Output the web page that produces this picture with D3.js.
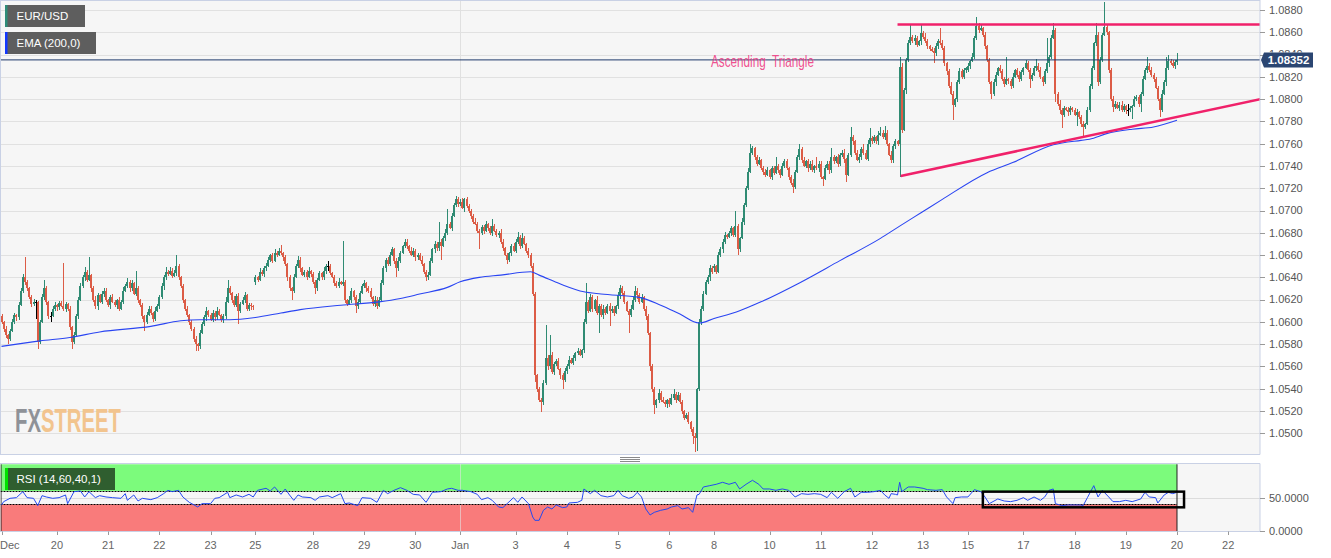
<!DOCTYPE html>
<html><head><meta charset="utf-8">
<script src="https://cdn.jsdelivr.net/npm/d3@7"></script>
<style>html,body{margin:0;padding:0;background:#fff;}svg{display:block;font-family:"Liberation Sans",Arial,sans-serif;}</style>
</head><body><svg id="c" width="1331" height="558"></svg>
<script>
// ---------- DATA (hourly EUR/USD candles) ----------
const weekOpens = [1.0605, 1.0636, 1.0706, 1.0648, 1.0826];
const closesW1 = [1.0600,1.0594,1.0588,1.0585,1.0592,1.0600,1.0606,1.0604,1.0615,1.0628,
1.0640,1.0636,1.0630,1.0622,1.0616,1.0618,1.0618,1.0582,1.0600,1.0622,
1.0630,1.0618,1.0605,1.0605,1.0612,1.0615,1.0613,1.0617,1.0614,1.0612,
1.0616,1.0612,1.0595,1.0582,1.0588,1.0605,1.0620,1.0632,1.0640,1.0645,
1.0638,1.0642,1.0630,1.0620,1.0614,1.0624,1.0618,1.0625,1.0628,1.0620,
1.0615,1.0622,1.0618,1.0615,1.0620,1.0612,1.0618,1.0628,1.0632,1.0636,
1.0630,1.0635,1.0625,1.0630,1.0620,1.0615,1.0605,1.0600,1.0606,1.0612,
1.0608,1.0603,1.0610,1.0614,1.0622,1.0632,1.0640,1.0645,1.0643,1.0646,
1.0641,1.0644,1.0650,1.0640,1.0632,1.0620,1.0612,1.0606,1.0600,1.0594,
1.0585,1.0580,1.0578,1.0590,1.0598,1.0604,1.0610,1.0606,1.0602,1.0608,
1.0604,1.0610,1.0606,1.0602,1.0605,1.0618,1.0630,1.0626,1.0620,1.0615,
1.0623,1.0610,1.0616,1.0620,1.0624,1.0612,1.0615,1.0614,1.0613];
const hiW1 = [2,1,2,1,2,3,2,1,3,2, 3,18,2,1,2,3,2,1,2,3, 8,2,1,4,2,3,1,2,2,39, 2,1,2,1,3,2,2,3,2,4,
2,16,1,2,3,2,1,3,2,2, 1,2,3,2,1,2,2,3,2,3, 2,3,1,16,2,1,2,1,3,2, 2,1,3,2,2,3,2,4,2,3,
2,3,10,2,1,2,1,2,1,2, 1,2,1,3,2,2,3,1,2,3, 2,3,2,1,2,4,8,2,1,3, 2,3,2,2,3,1,2,2,1];
const loW1 = [2,3,2,5,2,1,2,3,2,1, 2,3,2,1,3,2,15,6,2,1, 2,3,2,5,1,2,3,2,1,2, 3,2,2,6,2,1,2,1,2,3,
2,1,3,2,2,3,1,2,3,2, 2,3,1,2,3,2,1,2,1,2, 3,2,1,2,3,2,2,8,2,1, 2,3,2,1,2,1,3,2,2,1,
2,1,3,2,2,3,2,2,3,2, 3,6,4,2,1,2,3,2,1,2, 3,2,1,2,3,2,1,2,3,2, 2,12,2,1,3,2,2,3,2];

const closesW2 = [1.0640,1.0638,1.0645,1.0643,1.0648,1.0650,1.0656,1.0660,1.0655,1.0662,
1.0660,1.0664,1.0662,1.0658,1.0652,1.0640,1.0630,1.0628,1.0640,1.0650,
1.0656,1.0648,1.0642,1.0645,1.0640,1.0646,1.0643,1.0636,1.0630,1.0638,
1.0644,1.0640,1.0646,1.0650,1.0650,1.0644,1.0640,1.0635,1.0632,1.0636,
1.0634,1.0636,1.0620,1.0616,1.0620,1.0628,1.0622,1.0614,1.0618,1.0626,
1.0632,1.0635,1.0630,1.0628,1.0622,1.0616,1.0620,1.0614,1.0620,1.0635,
1.0648,1.0656,1.0652,1.0660,1.0665,1.0655,1.0648,1.0655,1.0662,1.0668,
1.0672,1.0668,1.0664,1.0660,1.0664,1.0658,1.0660,1.0656,1.0652,1.0645,
1.0640,1.0642,1.0655,1.0665,1.0670,1.0666,1.0672,1.0668,1.0675,1.0680,
1.0688,1.0684,1.0695,1.0705,1.0710,1.0706];
const hiW2 = [2,1,3,2,2,3,2,1,2,3, 2,2,5,1,2,1,2,1,3,2, 3,2,1,2,2,3,1,2,2,1, 2,1,3,2,5,2,1,2,2,3,
1,37,2,1,3,2,1,2,3,2, 2,3,1,2,2,1,3,2,2,3, 2,1,2,3,2,1,2,3,2,1, 2,2,1,3,2,1,2,2,3,1,
2,3,2,1,3,2,18,2,2,3, 13,2,3,2,3,2];
const loW2 = [3,2,1,2,3,2,1,2,2,1, 2,1,2,3,2,3,2,8,2,1, 2,3,1,2,2,1,3,2,5,2, 1,2,2,3,4,2,1,3,2,2,
1,2,3,2,1,3,2,6,2,2, 1,2,3,2,1,2,3,2,1,2, 2,3,2,2,1,3,8,2,2,1, 2,3,2,1,2,3,2,1,2,2,
3,2,1,2,3,2,2,12,1,2, 2,1,2,1,2,3];

const closesW3 = [1.0708,1.0702,1.0710,1.0704,1.0700,1.0695,1.0690,1.0688,1.0682,1.0680,
1.0685,1.0682,1.0688,1.0684,1.0680,1.0686,1.0682,1.0678,1.0680,1.0672,
1.0666,1.0660,1.0656,1.0662,1.0668,1.0664,1.0672,1.0676,1.0668,1.0675,
1.0670,1.0664,1.0660,1.0650,1.0625,1.0552,1.0540,1.0530,1.0528,1.0545,
1.0568,1.0560,1.0570,1.0555,1.0562,1.0565,1.0558,1.0552,1.0548,1.0556,
1.0560,1.0566,1.0563,1.0568,1.0572,1.0574,1.0570,1.0575,1.0600,1.0618,
1.0610,1.0622,1.0612,1.0620,1.0608,1.0614,1.0606,1.0612,1.0608,1.0614,
1.0610,1.0612,1.0608,1.0614,1.0624,1.0630,1.0626,1.0618,1.0610,1.0606,
1.0612,1.0620,1.0628,1.0624,1.0618,1.0622,1.0612,1.0605,1.0590,1.0560,
1.0540,1.0525,1.0530,1.0536,1.0530,1.0528,1.0526,1.0530,1.0526,1.0532,
1.0535,1.0530,1.0534,1.0528,1.0520,1.0514,1.0516,1.0510,1.0504,1.0498,
1.0496,1.0540,1.0600,1.0612,1.0625,1.0636,1.0640,1.0648,1.0645];
const hiW3 = [2,3,1,2,2,1,2,3,2,1, 2,2,3,1,2,6,2,1,2,3, 2,1,2,1,2,3,2,5,2,5, 2,1,2,2,3,2,1,2,2,3,
29,2,18,3,2,2,3,1,2,3, 2,3,2,2,1,3,2,1,3,17, 2,3,2,1,3,2,2,3,1,2, 3,2,2,1,3,3,2,2,1,2,
3,2,4,2,2,3,1,2,2,1, 2,2,1,4,2,3,2,1,2,3, 5,2,3,2,2,1,2,3,1,2, 2,1,3,2,3,2,2,3,2];
const loW3 = [2,1,3,2,2,3,2,1,2,15, 2,3,1,2,2,3,1,2,3,2, 2,1,4,2,3,1,2,2,3,2, 1,2,3,2,2,6,3,2,9,3,
2,3,2,2,3,2,1,3,8,2, 3,2,1,2,3,2,1,2,3,2, 2,1,3,2,2,18,2,3,2,1, 14,2,3,1,2,3,2,2,1,16,
2,1,2,3,2,1,2,3,2,4, 3,8,2,3,2,1,2,3,2,1, 2,3,1,2,3,2,1,2,3,8, 13,12,2,3,2,1,2,3,2];

const closesW4 = [1.0650,1.0645,1.0660,1.0665,1.0672,1.0678,1.0676,1.0680,1.0684,1.0678,
1.0686,1.0665,1.0675,1.0690,1.0705,1.0720,1.0735,1.0752,1.0756,1.0748,
1.0742,1.0745,1.0738,1.0735,1.0732,1.0736,1.0730,1.0738,1.0734,1.0740,
1.0736,1.0732,1.0740,1.0744,1.0738,1.0730,1.0725,1.0721,1.0735,1.0748,
1.0755,1.0745,1.0740,1.0744,1.0738,1.0742,1.0736,1.0740,1.0738,1.0742,
1.0730,1.0728,1.0738,1.0742,1.0736,1.0748,1.0744,1.0748,1.0742,1.0750,
1.0752,1.0746,1.0732,1.0750,1.0766,1.0762,1.0752,1.0745,1.0748,1.0755,
1.0752,1.0746,1.0760,1.0765,1.0762,1.0766,1.0762,1.0768,1.0770,1.0766,
1.0770,1.0760,1.0750,1.0745,1.0758,1.0762,1.0760,1.0829,1.0772,1.0808,
1.0835,1.0850,1.0856,1.0852,1.0855,1.0849,1.0852,1.0859,1.0856,1.0852,
1.0848,1.0845,1.0843,1.0841,1.0848,1.0852,1.0850,1.0846,1.0832,1.0825,
1.0812,1.0805,1.0795,1.0800,1.0815,1.0825,1.0820,1.0826,1.0828];
const hiW4 = [2,1,3,2,2,3,1,2,2,1, 14,2,1,3,2,2,3,8,2,1, 2,3,1,2,2,3,1,2,2,8, 2,1,3,2,2,1,2,3,1,2,
5,2,3,1,2,2,3,1,8,2, 2,1,3,2,2,8,2,1,3,2, 2,3,1,2,9,2,1,2,3,2, 5,2,3,9,2,2,1,3,5,2,
6,2,1,3,2,2,1,9,3,2, 2,3,11,2,3,2,1,8,2,3, 2,1,2,3,2,2,12,3,2,1, 2,3,2,1,2,3,2,2,1];
const loW4 = [3,2,1,2,3,2,2,1,3,2, 2,5,2,1,3,2,2,1,2,3, 2,1,2,3,2,1,2,3,2,1, 2,3,1,2,2,3,2,5,2,1,
3,2,1,2,3,2,1,2,2,3, 2,6,1,2,3,2,2,1,3,2, 2,3,6,1,2,3,2,1,2,3, 2,1,2,3,2,1,2,3,1,2,
3,2,1,2,2,3,2,30,2,1, 3,2,1,2,3,2,1,3,2,2, 3,2,1,9,2,3,1,2,2,3, 2,1,14,2,3,1,2,2,3];

const closesW5 = [1.0830,1.0834,1.0838,1.0855,1.0866,1.0862,1.0864,1.0858,1.0848,1.0835,
1.0815,1.0805,1.0815,1.0822,1.0828,1.0825,1.0818,1.0814,1.0818,1.0816,
1.0812,1.0820,1.0826,1.0822,1.0818,1.0824,1.0828,1.0832,1.0826,1.0818,
1.0822,1.0828,1.0830,1.0826,1.0820,1.0815,1.0825,1.0832,1.0838,1.0855,
1.0862,1.0805,1.0796,1.0790,1.0786,1.0792,1.0790,1.0788,1.0792,1.0790,
1.0786,1.0788,1.0784,1.0778,1.0775,1.0778,1.0790,1.0812,1.0828,1.0850,
1.0858,1.0815,1.0835,1.0858,1.0865,1.0860,1.0826,1.0800,1.0793,1.0796,
1.0792,1.0795,1.0790,1.0794,1.0790,1.0790,1.0792,1.0794,1.0800,1.0802,
1.0796,1.0805,1.0818,1.0826,1.0830,1.0826,1.0822,1.0818,1.0810,1.0800,
1.0790,1.0805,1.0815,1.0828,1.0834,1.0832,1.0830,1.0833,1.08352];
const hiW5 = [2,1,3,2,8,2,3,1,2,1, 2,1,3,2,1,3,2,2,20,1, 2,3,1,2,3,2,1,3,2,2, 1,2,6,2,3,1,2,23,2,3,
6,2,1,3,2,2,1,3,2,1, 2,3,1,2,2,1,3,2,2,1, 10,2,3,1,22,2,1,2,3,2, 1,2,3,2,1,6,2,1,3,2,
2,1,3,2,8,2,3,1,2,2, 1,3,2,10,6,2,3,2,6];
const loW5 = [2,3,1,2,2,3,1,2,3,2, 1,5,2,3,1,2,2,3,1,2, 3,2,1,2,3,2,2,1,2,8, 2,1,3,2,2,3,1,2,3,2,
1,8,2,3,12,2,1,3,2,2, 1,10,2,3,9,2,1,2,3,2, 2,3,1,2,1,2,3,2,5,2, 1,3,2,2,3,5,2,10,1,2,
3,8,2,1,3,2,2,3,1,2, 6,2,1,3,2,1,2,3,2];

// EMA(200): [candle index, value]
const emaPoints = [[0,1.0578],[18,1.0583],[32,1.0586],[46,1.0591],[70,1.0596],[84,1.0601],[93,1.0602],[107,1.0602],
[119,1.0604],[131,1.0608],[140,1.0611],[159,1.0615],[177,1.0618],[187,1.0621],[196,1.0625],[209,1.0631],[215,1.0636],
[224,1.0640],[234,1.0642],[248,1.0645],[252,1.0642],[262,1.0634],[273,1.0627],[281,1.0625],[299,1.0622],[309,1.0615],
[318,1.0607],[327,1.0599],[334,1.0603],[346,1.0610],[356,1.0618],[374,1.0635],[393,1.0655],[412,1.0675],[421,1.0686],
[431,1.0698],[441,1.0710],[462,1.0734],[474,1.0743],[493,1.0759],[506,1.0763],[510,1.0764],[518,1.0769],[530,1.0773],
[540,1.0775],[551,1.0781]];

// RSI(14): [candle index, value]
const rsiPoints = [[0,39],[1,44],[4,49],[7,50],[10,59],[12,50],[15,49],[17,38],[19,53],[21,51],[24,49],[27,50],[30,54],[31,41],
[34,59],[37,60],[39,51],[41,59],[44,50],[46,53],[49,51],[52,50],[56,49],[58,56],[59,46],[62,54],[64,45],[66,49],[70,47],[73,50],
[76,56],[78,61],[80,59],[83,61],[85,51],[88,43],[92,36],[94,41],[98,41],[100,49],[102,50],[106,58],[107,50],[110,54],[113,51],
[116,55],[118,51],[120,61],[124,64],[126,60],[128,66],[131,55],[133,63],[135,54],[137,46],[139,54],[141,51],[145,50],[147,46],
[149,51],[153,53],[155,50],[159,56],[161,41],[163,42],[167,38],[169,50],[173,49],[176,43],[179,61],[181,56],[184,61],[187,65],
[190,61],[193,55],[196,54],[199,43],[202,58],[206,59],[209,63],[211,64],[214,61],[216,61],[220,59],[223,55],[225,47],[228,50],
[230,46],[233,36],[235,35],[237,41],[240,50],[242,43],[244,51],[247,41],[249,21],[250,16],[252,16],[254,31],[256,36],[258,33],
[260,39],[263,35],[265,36],[266,42],[270,43],[272,46],[273,63],[276,56],[278,61],[281,53],[284,51],[287,53],[289,61],[291,53],
[294,49],[296,51],[298,58],[300,51],[302,33],[304,24],[306,28],[309,31],[312,33],[314,36],[317,38],[319,33],[322,35],[324,28],
[326,54],[327,55],[329,66],[332,68],[335,70],[338,73],[341,70],[344,73],[346,63],[349,70],[352,76],[355,70],[357,63],[360,63],
[363,61],[366,63],[369,61],[372,51],[375,56],[378,55],[381,56],[384,55],[387,50],[389,58],[392,49],[395,59],[398,64],[400,51],
[403,58],[406,58],[409,59],[412,61],[414,54],[416,49],[417,56],[419,55],[420,54],[421,73],[422,59],[425,66],[428,66],[432,64],
[434,62],[438,61],[441,62],[443,51],[446,41],[447,50],[450,51],[453,51],[456,62],[459,59],[461,51],[463,41],[467,48],[470,45],
[473,44],[476,46],[479,50],[481,46],[484,51],[487,46],[489,51],[491,61],[493,63],[494,41],[497,38],[500,39],[503,39],[506,39],
[507,38],[509,50],[512,68],[514,51],[516,61],[519,51],[521,44],[524,44],[527,46],[530,44],[534,48],[536,58],[538,51],[541,50],
[542,42],[545,54],[547,58],[549,56],[551,58]];

const priceTicks = [1.0500,1.0520,1.0540,1.0560,1.0580,1.0600,1.0620,1.0640,1.0660,1.0680,1.0700,1.0720,1.0740,1.0760,1.0780,1.0800,1.0820,1.0840,1.0860,1.0880];
const rsiTicks = [0, 50];
const dateLabels = ["Dec","20","21","22","23","25","28","29","30","Jan","3","4","5","6","8","10","11","12","13","15","17","18","19","20","22"];
const dateIdx = [0,26,50,74,98,119,146,170,194,215,241,265,289,313,334,360,384,408,432,453,479,503,527,551,575];
const lastPrice = 1.08352;
const resistanceLine = [[420,1.0867],[590,1.0867]];
const supportLine = [[421.5,1.0731],[590,1.0800]];
const rsiBox = [[460,59],[554.3,35.5]];
const rsiLevels = [60, 40];

// ---------- BUILD ----------
const weeks = [closesW1,closesW2,closesW3,closesW4,closesW5];
const his = [hiW1,hiW2,hiW3,hiW4,hiW5];
const los = [loW1,loW2,loW3,loW4,loW5];
const candles = [];
let gi = 0;
weeks.forEach((cl,w)=>{
  let o = weekOpens[w];
  cl.forEach((c,k)=>{
    candles.push({i:gi++, o, c, h:Math.max(o,c)+his[w][k]*1e-4, l:Math.min(o,c)-los[w][k]*1e-4});
    o = c;
  });
});
const lastIdx = candles.length-1;

const plotL=0.5, plotR=1260, mainT=0.5, mainB=454.5, rsiT=463.5, rsiB=531.5;
const x = d3.scaleLinear().domain([0,590]).range([1.5,1260.2]);
const y = d3.scaleLinear().domain([1.0500,1.0880]).range([433.3,10]);
const yr = d3.scaleLinear().domain([0,100]).range([531,464.3]);

const svg = d3.select("#c");
const defs = svg.append("defs");
defs.append("clipPath").attr("id","mainClip").append("rect").attr("x",plotL).attr("y",mainT).attr("width",plotR-plotL).attr("height",mainB-mainT);
defs.append("clipPath").attr("id","rsiClip").append("rect").attr("x",plotL).attr("y",rsiT).attr("width",plotR-plotL).attr("height",rsiB-rsiT);
defs.append("clipPath").attr("id","tagClip").append("rect").attr("x",1262).attr("y",0).attr("width",69).attr("height",y(lastPrice)-7.5);

const border="#c9d1e5";
svg.append("rect").attr("x",plotL).attr("y",mainT).attr("width",plotR-plotL).attr("height",mainB-mainT).attr("fill","#f6f6f6");
svg.append("rect").attr("x",plotL).attr("y",rsiT).attr("width",plotR-plotL).attr("height",rsiB-rsiT).attr("fill","#f6f6f6");

// main grid
const grid = svg.append("g").attr("clip-path","url(#mainClip)");
grid.selectAll("line.g").data(priceTicks).join("line")
  .attr("x1",plotL).attr("x2",plotR).attr("y1",d=>Math.round(y(d))+0.5).attr("y2",d=>Math.round(y(d))+0.5)
  .attr("stroke","#e1e1e1").attr("stroke-width",1);
svg.append("line").attr("x1",Math.round(x(215))+0.5).attr("x2",Math.round(x(215))+0.5).attr("y1",mainT).attr("y2",mainB).attr("stroke","#e0e0e0");

// FXSTREET watermark (single text, two coloured parts)
const logo = svg.append("text").attr("x",15).attr("y",432)
  .attr("font-family","'Liberation Sans Narrow','Liberation Sans',Arial,sans-serif").attr("font-weight","bold").attr("font-size",33)
  .attr("textLength",106).attr("lengthAdjust","spacingAndGlyphs");
logo.append("tspan").attr("fill","#8f9298").text("FX");
logo.append("tspan").attr("fill","#f2c48e").text("STREET");

// candles
const cg = svg.append("g").attr("clip-path","url(#mainClip)").attr("shape-rendering","crispEdges");
const up="#2f8b73", dn="#dc5c46";
const col = d => Math.abs(d.c-d.o)<0.00004 ? "#000" : (d.c>d.o?up:dn);
cg.selectAll("rect.w").data(candles).join("rect")
  .attr("x",d=>Math.round(x(d.i)-1)+1).attr("width",1)
  .attr("y",d=>y(d.h)).attr("height",d=>Math.max(1,y(d.l)-y(d.h)))
  .attr("fill",col);
cg.selectAll("rect.b").data(candles).join("rect")
  .attr("x",d=>Math.round(x(d.i)-1)).attr("width",2)
  .attr("y",d=>y(Math.max(d.o,d.c))).attr("height",d=>Math.max(1,Math.abs(y(d.o)-y(d.c))))
  .attr("fill",col);

// EMA
const mainLines = svg.append("g").attr("clip-path","url(#mainClip)");
mainLines.append("path").datum(emaPoints)
  .attr("d",d3.line().x(d=>x(d[0])).y(d=>y(d[1])).curve(d3.curveMonotoneX))
  .attr("fill","none").attr("stroke","#2a45f2").attr("stroke-width",1.1);

// triangle
const tri = d3.line().x(d=>x(d[0])).y(d=>y(d[1]));
mainLines.append("path").datum(resistanceLine).attr("d",tri).attr("stroke","#f0216a").attr("stroke-width",2.5).attr("fill","none");
mainLines.append("path").datum(supportLine).attr("d",tri).attr("stroke","#f0216a").attr("stroke-width",2.5).attr("fill","none");

// current price line
svg.append("line").attr("x1",plotL).attr("x2",plotR).attr("y1",y(lastPrice)).attr("y2",y(lastPrice)).attr("stroke","#1f3a6c").attr("stroke-width",1);

// annotation text
svg.append("text").attr("x",711).attr("y",67).attr("font-family","'Liberation Sans Narrow','Liberation Sans',Arial,sans-serif")
  .attr("font-size",17).attr("textLength",103).attr("lengthAdjust","spacingAndGlyphs")
  .attr("fill","#ef3b84").attr("fill-opacity",0.9).attr("xml:space","preserve").text("Ascending  Triangle");

// main borders
svg.append("line").attr("x1",plotR).attr("x2",plotR).attr("y1",0).attr("y2",mainB).attr("stroke",border);
svg.append("line").attr("x1",0).attr("x2",plotR).attr("y1",0.5).attr("y2",0.5).attr("stroke",border);
svg.append("line").attr("x1",0).attr("x2",plotR).attr("y1",mainB).attr("y2",mainB).attr("stroke",border);
svg.append("line").attr("x1",0.5).attr("x2",0.5).attr("y1",0).attr("y2",mainB).attr("stroke",border);

// price axis (the 1.0840 label sits behind the price tag, as in the original; only its top edge shows)
const ya = svg.append("g").attr("font-size",11).attr("fill","#555");
ya.selectAll("line").data(priceTicks).join("line").attr("x1",plotR).attr("x2",plotR+5)
  .attr("y1",d=>Math.round(y(d))+0.5).attr("y2",d=>Math.round(y(d))+0.5).attr("stroke","#999");
ya.selectAll("text").data(priceTicks).join("text").attr("x",1269).attr("y",d=>y(d)).attr("dy","0.35em")
  .attr("clip-path",d=>Math.abs(y(d)-y(lastPrice))<12?"url(#tagClip)":null).text(d=>d.toFixed(4));

// current price tag
const tagY = y(lastPrice);
svg.append("path").attr("d",`M${plotR+1},${tagY} L${plotR+4},${tagY-7.5} L1313,${tagY-7.5} L1313,${tagY+7.5} L${plotR+4},${tagY+7.5} Z`).attr("fill","#2b4672");
svg.append("text").attr("x",1288.5).attr("y",tagY).attr("dy","0.36em").attr("text-anchor","middle").attr("font-size",11.5).attr("font-weight","bold").attr("fill","#fff").text(lastPrice.toFixed(5));

// legends
function legend(yTop, w, bar, fill, txt){
  svg.append("rect").attr("x",5).attr("y",yTop).attr("width",w).attr("height",22).attr("fill",fill);
  svg.append("rect").attr("x",5).attr("y",yTop).attr("width",2.5).attr("height",22).attr("fill",bar);
  svg.append("text").attr("x",16.5).attr("y",yTop+15).attr("font-size",11.5).attr("fill","#fff").text(txt);
}
legend(5,80,"#2e8c78","#5e5e5e","EUR/USD");
legend(32,91,"#1238ff","#5e5e5e","EMA (200,0)");

// drag handle
[457.5,459.5,461.5].forEach(v=>svg.append("line").attr("x1",620).attr("x2",640).attr("y1",v).attr("y2",v).attr("stroke","#8a8a8a"));

// ---------- RSI panel ----------
const rg = svg.append("g").attr("clip-path","url(#rsiClip)");
const xEnd = x(lastIdx);
rg.append("rect").attr("x",plotL).attr("y",yr(100)).attr("width",xEnd-plotL).attr("height",yr(rsiLevels[0])-yr(100)).attr("fill","#7cfb7c");
rg.append("rect").attr("x",plotL).attr("y",yr(rsiLevels[1])).attr("width",xEnd-plotL).attr("height",yr(0)-yr(rsiLevels[1])).attr("fill","#f97b7b");
rg.append("line").attr("x1",plotL).attr("x2",plotR).attr("y1",Math.round(yr(50))+0.5).attr("y2",Math.round(yr(50))+0.5).attr("stroke","#dcdcdc");
rg.append("line").attr("x1",Math.round(x(215))+0.5).attr("x2",Math.round(x(215))+0.5).attr("y1",rsiT).attr("y2",rsiB).attr("stroke","#e3e3e3").attr("stroke-opacity",0.6);
rsiLevels.forEach(v=>rg.append("line").attr("x1",plotL).attr("x2",xEnd).attr("y1",Math.round(yr(v))+0.5).attr("y2",Math.round(yr(v))+0.5).attr("stroke","#000").attr("stroke-dasharray","2,1"));
[plotL+0.5, xEnd].forEach(v=>rg.append("line").attr("x1",v).attr("x2",v).attr("y1",yr(100)).attr("y2",yr(0)).attr("stroke","#222"));
rg.append("path").datum(rsiPoints).attr("d",d3.line().x(d=>x(d[0])).y(d=>yr(d[1])))
  .attr("fill","none").attr("stroke","#2449f0").attr("stroke-width",1);
rg.append("rect").attr("x",x(rsiBox[0][0])).attr("y",yr(rsiBox[0][1])).attr("width",x(rsiBox[1][0])-x(rsiBox[0][0]))
  .attr("height",yr(rsiBox[1][1])-yr(rsiBox[0][1])).attr("fill","none").attr("stroke","#000").attr("stroke-width",2.5);

// RSI label
svg.append("rect").attr("x",5).attr("y",468).attr("width",110).attr("height",22).attr("fill","#2f5e2f");
svg.append("rect").attr("x",5).attr("y",468).attr("width",3).attr("height",22).attr("fill","#00e000");
svg.append("text").attr("x",16.5).attr("y",483).attr("font-size",11.5).attr("fill","#fff").text("RSI (14,60,40,1)");

// RSI borders
svg.append("line").attr("x1",0).attr("x2",plotR).attr("y1",rsiT).attr("y2",rsiT).attr("stroke",border);
svg.append("line").attr("x1",0).attr("x2",plotR).attr("y1",rsiB).attr("y2",rsiB).attr("stroke",border);
svg.append("line").attr("x1",plotR).attr("x2",plotR).attr("y1",rsiT).attr("y2",rsiB).attr("stroke",border);

// RSI axis
const ra = svg.append("g").attr("font-size",11).attr("fill","#555");
ra.selectAll("line").data(rsiTicks).join("line").attr("x1",plotR).attr("x2",plotR+5)
  .attr("y1",d=>Math.round(yr(d))+0.5).attr("y2",d=>Math.round(yr(d))+0.5).attr("stroke","#999");
ra.selectAll("text").data(rsiTicks).join("text").attr("x",1269).attr("y",d=>yr(d)).attr("dy","0.35em").text(d=>d.toFixed(4));

// date axis
const xa = svg.append("g").attr("font-size",11).attr("fill","#666");
xa.selectAll("line").data(dateIdx).join("line").attr("x1",d=>Math.round(x(d))+0.5).attr("x2",d=>Math.round(x(d))+0.5)
  .attr("y1",rsiB).attr("y2",rsiB+3.5).attr("stroke","#999");
xa.selectAll("text").data(dateLabels).join("text")
  .attr("x",(d,k)=>k===0?0:x(dateIdx[k])).attr("text-anchor",(d,k)=>k===0?"start":"middle")
  .attr("y",549).text(d=>d);
</script></body></html>
